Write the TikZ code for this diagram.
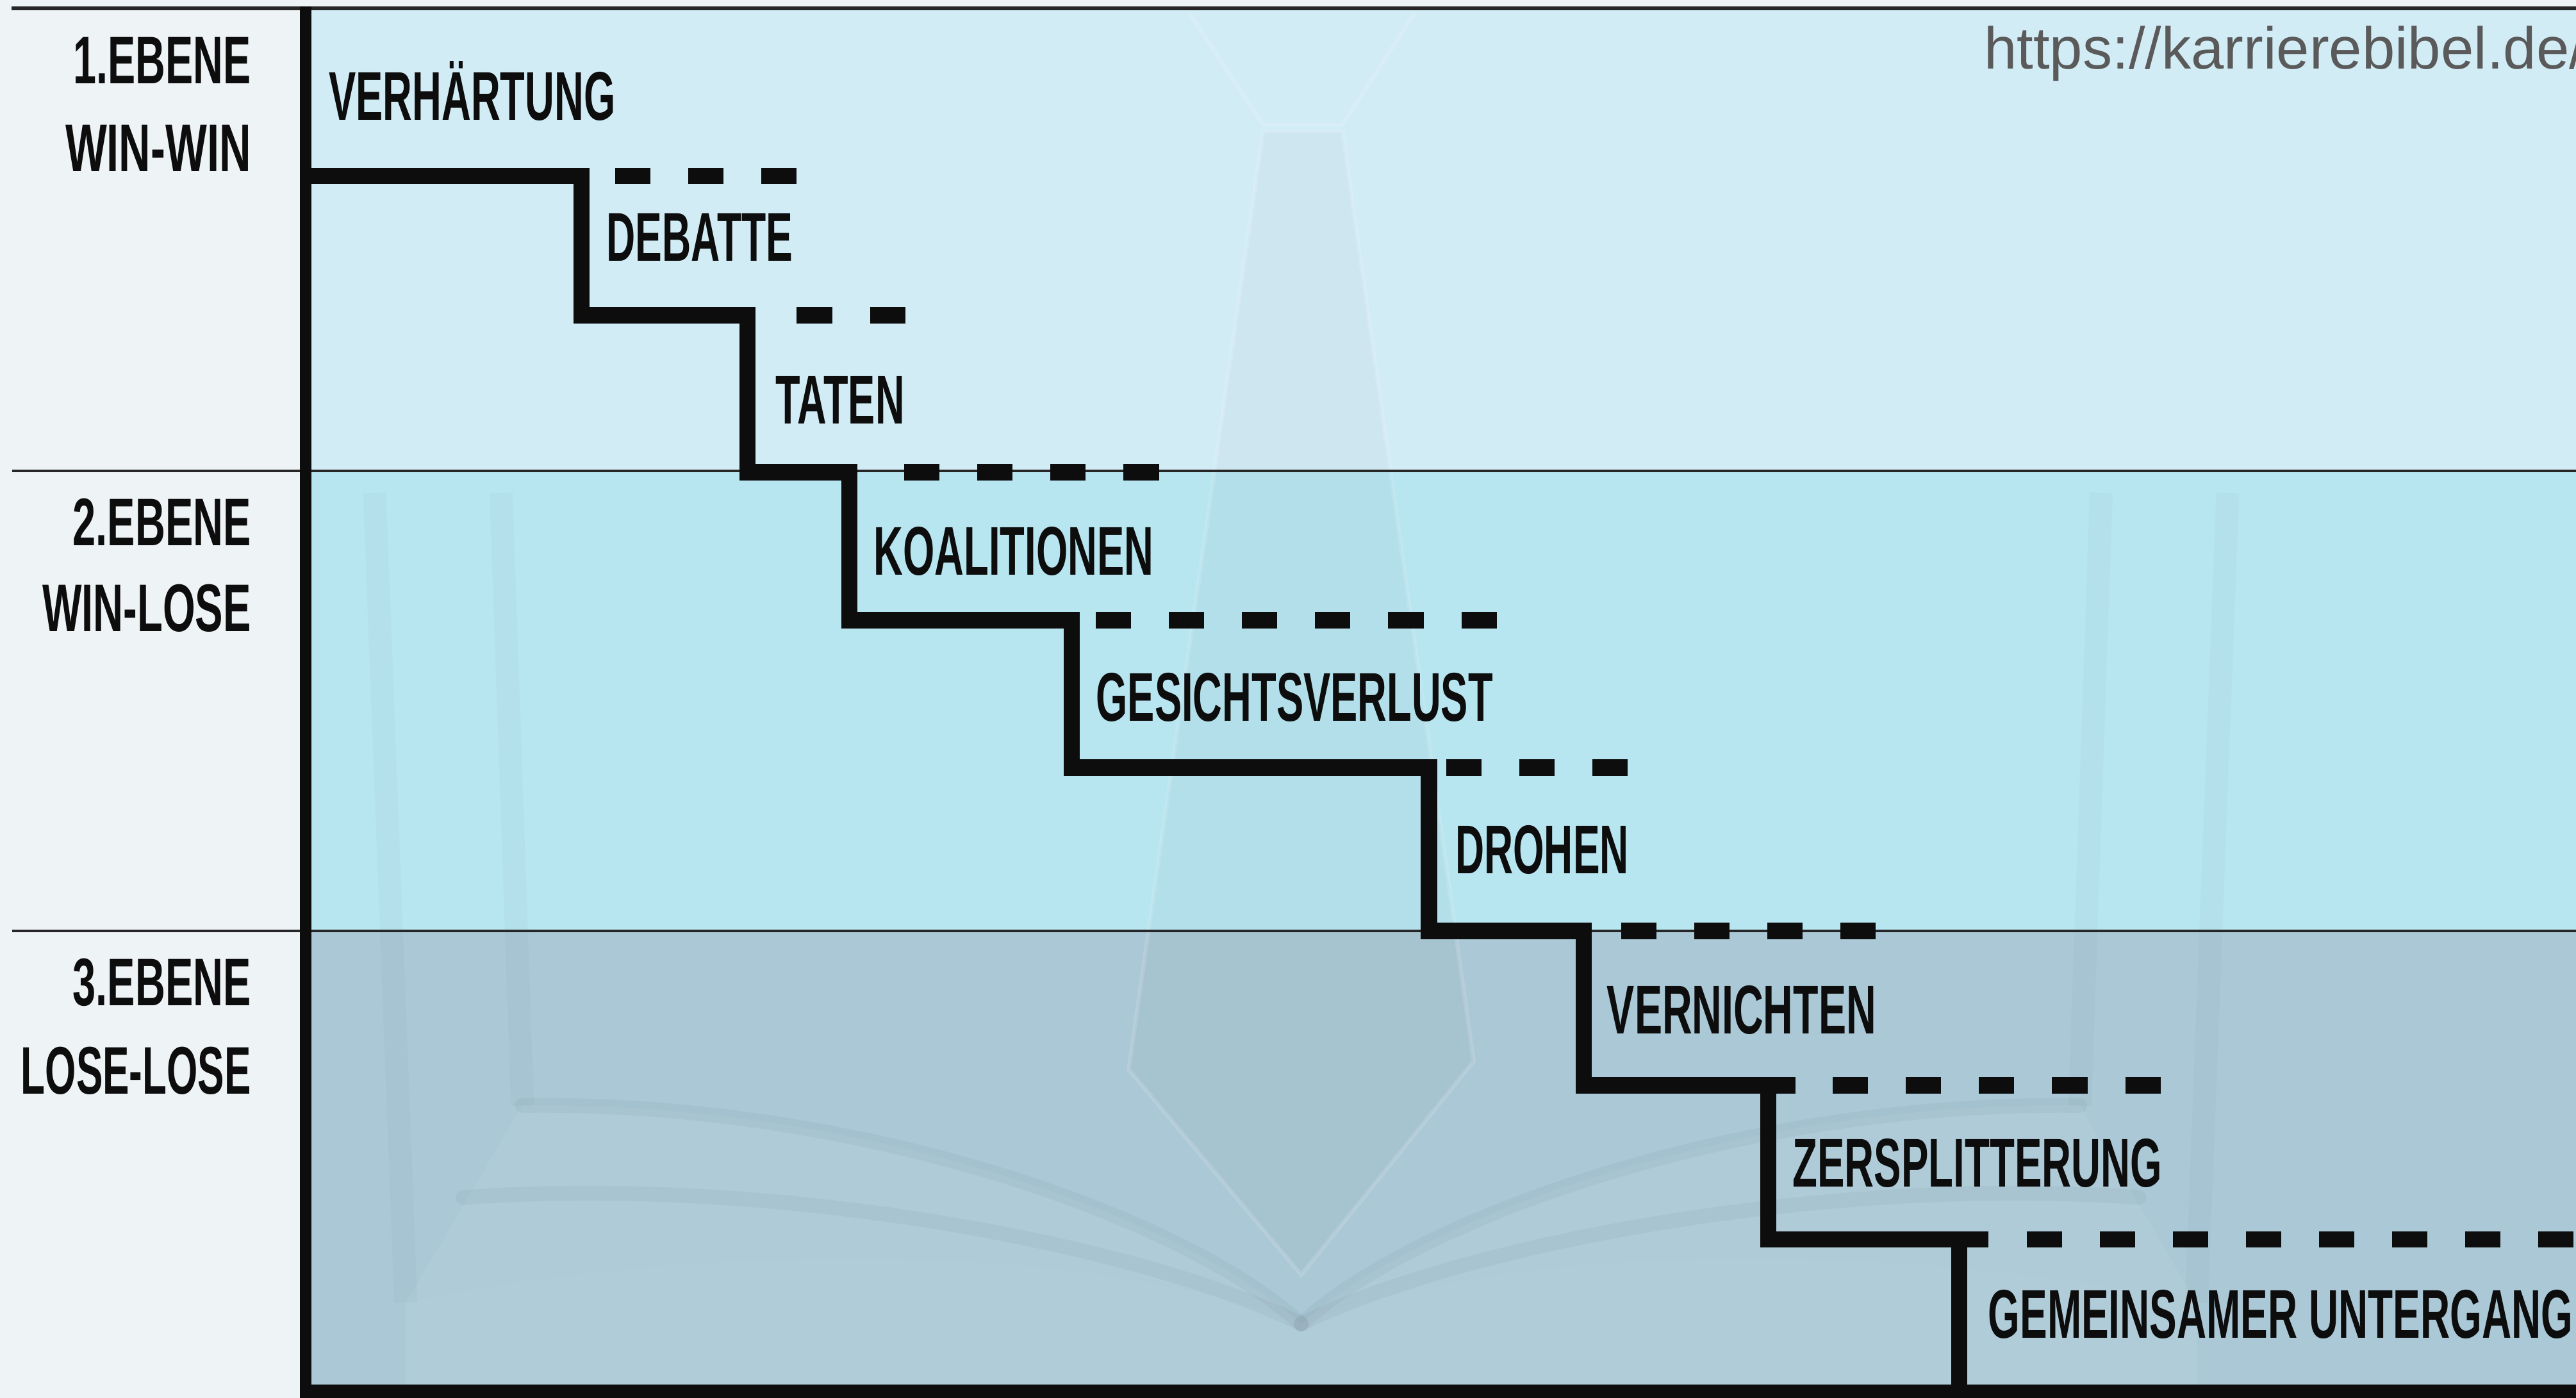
\documentclass[tikz,border=0pt]{standalone}
\usepackage{fontspec}
\usepackage{graphicx}
\setmainfont{Liberation Sans}
\newfontfamily\urlfont{Liberation Sans}
\definecolor{leftbg}{HTML}{EEF3F6}
\definecolor{bandA}{HTML}{D2ECF6}
\definecolor{bandB}{HTML}{B7E5F0}
\definecolor{bandC}{HTML}{AAC8D6}
\definecolor{urlgray}{HTML}{5A5A5A}
\definecolor{ink}{HTML}{0D0D0D}
\newsavebox\lblbox
\newcommand\fitlbl[2]{%
  \sbox\lblbox{#2}%
  \pgfmathsetmacro\fitfac{#1/\the\wd\lblbox}%
  \scalebox{\fitfac}[1]{\usebox\lblbox}}
\tikzset{
  steplbl/.style={anchor=base west, inner sep=0pt, text=ink,
    font=\bfseries\fontsize{42}{42}\selectfont},
  lvllbl/.style={anchor=base east, inner sep=0pt, text=ink,
    font=\bfseries\fontsize{41}{41}\selectfont},
  stair/.style={draw=ink, line width=10pt, line join=miter, line cap=butt},
  dashln/.style={draw=ink, line width=10pt, dash pattern=on 21.5pt off 23pt},
  sepline/.style={draw=black!85, line width=1.5pt},
  wmdark/.style={draw=black, draw opacity=0.03, line width=9pt, line cap=round},
  wmstrip/.style={draw=black, draw opacity=0.02, line width=14pt},
  wmlight/.style={draw=white, draw opacity=0.14, line width=2.5pt},
}
\begin{document}
\begin{tikzpicture}[x=1pt, y=-1pt]
\useasboundingbox (0,0) rectangle (1568,851);
% backgrounds
\fill[leftbg] (0,0) rectangle (1568,851);
\fill[bandA] (186,5) rectangle (1568,286.6);
\fill[bandB] (186,286.6) rectangle (1568,566.8);
\fill[bandC] (186,566.8) rectangle (1568,851);
% faint watermark: tie and open book
\begin{scope}
\clip (190,6) rectangle (1568,846);
\fill[white, opacity=0.08] (247,851) -- (247,793) .. controls (400,760) and (650,750) .. (792,806)
   .. controls (934,750) and (1184,760) .. (1337,793) -- (1337,851) -- cycle;
\fill[white, opacity=0.06] (318,673) .. controls (520,670) and (720,740) .. (792,806)
   .. controls (864,740) and (1064,670) .. (1266,673) -- (1337,793)
   .. controls (1184,760) and (934,750) .. (792,806)
   .. controls (650,750) and (400,760) .. (247,793) -- cycle;
\draw[wmdark] (318,673) .. controls (520,670) and (720,740) .. (792,806);
\draw[wmdark] (282,729) .. controls (480,715) and (700,760) .. (792,806);
\draw[wmdark] (1266,673) .. controls (1064,670) and (864,740) .. (792,806);
\draw[wmdark] (1302,729) .. controls (1104,715) and (884,760) .. (792,806);
\draw[wmstrip] (247,793) -- (228,300);
\draw[wmstrip] (318,673) -- (305,300);
\draw[wmstrip] (1337,793) -- (1356,300);
\draw[wmstrip] (1266,673) -- (1279,300);
\fill[black, opacity=0.025] (769,80) -- (817,80) -- (897,646) -- (792,776) -- (687,651) -- cycle;
\draw[wmlight] (769,80) -- (817,80) -- (897,646) -- (792,776) -- (687,651) -- cycle;
\draw[wmlight] (724,8) -- (769,76) -- (817,76) -- (861,8);
\end{scope}
% frame lines
\coordinate (tl) at (7,5);
\coordinate (tr) at (1568,5);
\coordinate (s1l) at (7.5,286.6);
\coordinate (s1r) at (1568,286.6);
\coordinate (s2l) at (7.5,566.8);
\coordinate (s2r) at (1568,566.8);
\draw[draw=black!85, line width=2.5pt] (tl) -- (tr);
\draw[sepline] (s1l) -- (s1r);
\draw[sepline] (s2l) -- (s2r);
\coordinate (axt) at (186,4);
\coordinate (axb) at (186,851);
\draw[draw=ink, line width=7pt] (axt) -- (axb);
\coordinate (bl) at (182.5,847);
\coordinate (br) at (1568,847);
\draw[draw=ink, line width=8pt] (bl) -- (br);
% staircase
\coordinate (c0) at (186,107);
\coordinate (c1) at (354,107);
\coordinate (c2) at (354,192);
\coordinate (c3) at (455,192);
\coordinate (c4) at (455,287.5);
\coordinate (c5) at (517,287.5);
\coordinate (c6) at (517,377.6);
\coordinate (c7) at (652.4,377.6);
\coordinate (c8) at (652.4,467.3);
\coordinate (c9) at (869.8,467.3);
\coordinate (c10) at (869.8,566.7);
\coordinate (c11) at (964,566.7);
\coordinate (c12) at (964,660.8);
\coordinate (c13) at (1076.3,660.8);
\coordinate (c14) at (1076.3,754.5);
\coordinate (c15) at (1192.6,754.5);
\coordinate (c16) at (1192.6,851);
\draw[stair] (c0) -- (c1) -- (c2) -- (c3) -- (c4) -- (c5) -- (c6) -- (c7) -- (c8)
  -- (c9) -- (c10) -- (c11) -- (c12) -- (c13) -- (c14) -- (c15) -- (c16);
\coordinate (st1) at (1093,660.8);
\coordinate (st2) at (1210.5,754.5);
\draw[stair] (c13) -- (st1);
\draw[stair] (c15) -- (st2);
% dashed continuations
\coordinate (d1a) at (374.5,107);   \coordinate (d1b) at (485,107);
\coordinate (d2a) at (485,192);     \coordinate (d2b) at (551,192);
\coordinate (d3a) at (550.4,287.5); \coordinate (d3b) at (705.4,287.5);
\coordinate (d4a) at (667,377.6);   \coordinate (d4b) at (911,377.6);
\coordinate (d5a) at (880.4,467.3); \coordinate (d5b) at (990.9,467.3);
\coordinate (d6a) at (986.7,566.7); \coordinate (d6b) at (1141.7,566.7);
\coordinate (d7a) at (1115.6,660.8);\coordinate (d7b) at (1315.1,660.8);
\coordinate (d8a) at (1233.6,754.5);\coordinate (d8b) at (1566.6,754.5);
\foreach \i in {1,...,8} { \draw[dashln] (d\i a) -- (d\i b); }
% step labels
\node[steplbl] (l1) at (200,73)    {\fitlbl{174.5}{VERHÄRTUNG}};
\node[steplbl] (l2) at (369,159)   {\fitlbl{113.4}{DEBATTE}};
\node[steplbl] (l3) at (472,258)   {\fitlbl{78.4}{TATEN}};
\node[steplbl] (l4) at (531.7,350) {\fitlbl{170.3}{KOALITIONEN}};
\node[steplbl] (l5) at (667,439)   {\fitlbl{241.5}{GESICHTSVERLUST}};
\node[steplbl] (l6) at (885.7,532) {\fitlbl{105.5}{DROHEN}};
\node[steplbl] (l7) at (978,629.4) {\fitlbl{163.8}{VERNICHTEN}};
\node[steplbl] (l8) at (1091,722.6){\fitlbl{224.8}{ZERSPLITTERUNG}};
\node[steplbl] (l9) at (1210,814.5){\fitlbl{356}{GEMEINSAMER UNTERGANG}};
% level labels
\node[lvllbl] (e1) at (153,51)    {\fitlbl{108}{1.EBENE}};
\node[lvllbl] (w1) at (153,104.5) {\fitlbl{113}{WIN-WIN}};
\node[lvllbl] (e2) at (153,332)   {\fitlbl{108.4}{2.EBENE}};
\node[lvllbl] (w2) at (153,384.3) {\fitlbl{127}{WIN-LOSE}};
\node[lvllbl] (e3) at (153,612)   {\fitlbl{108.4}{3.EBENE}};
\node[lvllbl] (w3) at (153,666)   {\fitlbl{140}{LOSE-LOSE}};
% url
\node[anchor=base west, inner sep=0pt, text=urlgray,
  font=\urlfont\fontsize{36}{36}\selectfont] (url) at (1207.5,42) {https://karrierebibel.de/};
\end{tikzpicture}
\end{document}
